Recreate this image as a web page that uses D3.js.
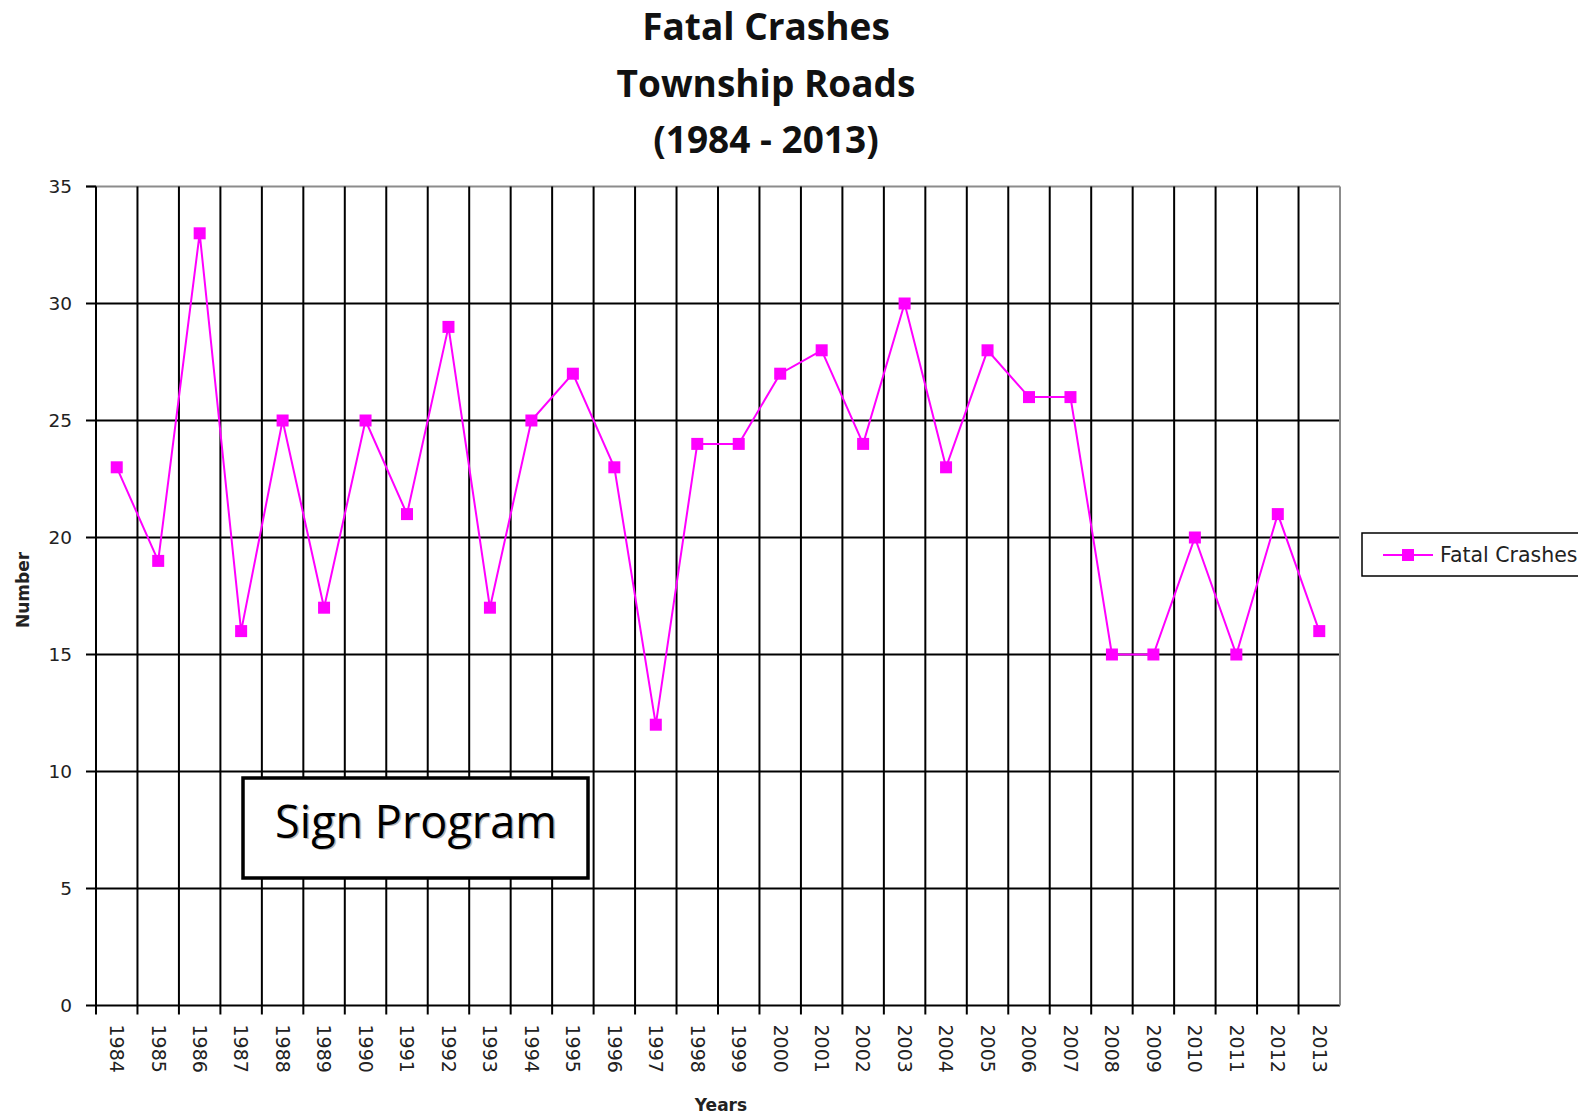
<!DOCTYPE html>
<html>
<head>
<meta charset="utf-8">
<script src="https://cdn.jsdelivr.net/npm/d3@7"></script>
<style>
  html, body { margin: 0; padding: 0; background: #fff; overflow: hidden; }
  svg { display: block; }
</style>
</head>
<body>
<script>
const width = 1578;
const height = 1115;

// data
const years = ["1984", "1985", "1986", "1987", "1988", "1989", "1990", "1991", "1992", "1993",
               "1994", "1995", "1996", "1997", "1998", "1999", "2000", "2001", "2002", "2003",
               "2004", "2005", "2006", "2007", "2008", "2009", "2010", "2011", "2012", "2013"];
const fatalCrashes = [23, 19, 33, 16, 25, 17, 25, 21, 29, 17,
                      25, 27, 23, 12, 24, 24, 27, 28, 24, 30,
                      23, 28, 26, 26, 15, 15, 20, 15, 21, 16];
const yTicks = [0, 5, 10, 15, 20, 25, 30, 35];
const titleLines = ["Fatal Crashes", "Township Roads", "(1984 - 2013)"];
const seriesName = "Fatal Crashes";
const noteText = "Sign Program";

const margin = { left: 96, right: 1340, top: 186.5, bottom: 1005.5 };
const pink = "#ff00ff";

const svg = d3.select("body")
    .append("svg")
    .attr("width", width)
    .attr("height", height);

const x = d3.scaleBand()
    .domain(years)
    .range([margin.left, margin.right])
    .padding(0);

const y = d3.scaleLinear()
    .domain([0, 35])
    .range([margin.bottom, margin.top]);

// title
svg.append("g")
    .selectAll("text")
    .data(titleLines)
    .join("text")
    .attr("x", 766)
    .attr("y", (d, i) => 40 + i * 56.5)
    .attr("text-anchor", "middle")
    .attr("font-family", "Open Sans")
    .attr("font-weight", "bold")
    .attr("font-size", 37)
    .attr("fill", "#111")
    .text(d => d);

// horizontal gridlines
svg.append("g")
    .selectAll("line")
    .data(yTicks)
    .join("line")
    .attr("x1", margin.left - 10)
    .attr("x2", margin.right)
    .attr("y1", d => y(d))
    .attr("y2", d => y(d))
    .attr("stroke", d => d === 35 ? "#8c8c8c" : "#000")
    .attr("stroke-width", 2);

// vertical gridlines on category boundaries
const bounds = years.map(d => x(d)).concat([x.range()[1]]);
svg.append("g")
    .selectAll("line")
    .data(bounds)
    .join("line")
    .attr("x1", d => d)
    .attr("x2", d => d)
    .attr("y1", margin.top)
    .attr("y2", (d, i) => i === bounds.length - 1 ? margin.bottom : margin.bottom + 9)
    .attr("stroke", (d, i) => i === bounds.length - 1 ? "#8c8c8c" : "#000")
    .attr("stroke-width", 2);

// small tick at 35 left of the axis (border is gray)
svg.append("line")
    .attr("x1", margin.left - 10).attr("x2", margin.left)
    .attr("y1", y(35)).attr("y2", y(35))
    .attr("stroke", "#000").attr("stroke-width", 2);

// y axis labels
const yAxis = d3.axisLeft(y).tickValues(yTicks).tickSize(0).tickPadding(24);
svg.append("g")
    .attr("transform", `translate(${margin.left},0)`)
    .call(yAxis)
    .call(g => g.select(".domain").remove())
    .selectAll("text")
    .attr("font-family", "DejaVu Sans")
    .attr("font-size", 18.5)
    .attr("fill", "#222");

// x axis labels, rotated
const xAxis = d3.axisBottom(x).tickSize(0);
svg.append("g")
    .attr("transform", `translate(0,${margin.bottom})`)
    .call(xAxis)
    .call(g => g.select(".domain").remove())
    .selectAll("text")
    .attr("font-family", "DejaVu Sans")
    .attr("font-size", 19)
    .attr("fill", "#222")
    .attr("text-anchor", "start")
    .attr("transform", "rotate(90)")
    .attr("x", 19)
    .attr("y", 0)
    .attr("dy", "0.35em");

// axis titles
svg.append("text")
    .attr("x", 721)
    .attr("y", 1111)
    .attr("text-anchor", "middle")
    .attr("font-family", "DejaVu Sans")
    .attr("font-weight", "bold")
    .attr("font-size", 17)
    .attr("fill", "#222")
    .text("Years");

svg.append("text")
    .attr("transform", "translate(29,590) rotate(-90)")
    .attr("text-anchor", "middle")
    .attr("font-family", "DejaVu Sans")
    .attr("font-weight", "bold")
    .attr("font-size", 17)
    .attr("fill", "#222")
    .text("Number");

// annotation box
const note = svg.append("g");
note.append("rect")
    .attr("x", 243)
    .attr("y", 778)
    .attr("width", 345)
    .attr("height", 100)
    .attr("fill", "#fff")
    .attr("stroke", "#000")
    .attr("stroke-width", 3.5);
note.append("text")
    .attr("x", 417.5)
    .attr("y", 839)
    .attr("text-anchor", "middle")
    .attr("font-family", "Open Sans")
    .attr("font-size", 45)
    .attr("fill", "#bbb")
    .text(noteText);
note.append("text")
    .attr("x", 416)
    .attr("y", 837.5)
    .attr("text-anchor", "middle")
    .attr("font-family", "Open Sans")
    .attr("font-size", 45)
    .attr("fill", "#000")
    .text(noteText);

// series line
const line = d3.line()
    .x((d, i) => x(years[i]) + x.bandwidth() / 2)
    .y(d => y(d));

svg.append("path")
    .datum(fatalCrashes)
    .attr("d", line)
    .attr("fill", "none")
    .attr("stroke", pink)
    .attr("stroke-width", 2);

const m = 12;
svg.append("g")
    .selectAll("rect")
    .data(fatalCrashes)
    .join("rect")
    .attr("x", (d, i) => x(years[i]) + x.bandwidth() / 2 - m / 2)
    .attr("y", d => y(d) - m / 2)
    .attr("width", m)
    .attr("height", m)
    .attr("fill", pink);

// legend
const legend = svg.append("g");
legend.append("rect")
    .attr("x", 1362)
    .attr("y", 533)
    .attr("width", 240)
    .attr("height", 43)
    .attr("fill", "#fff")
    .attr("stroke", "#000")
    .attr("stroke-width", 1.5);
legend.append("line")
    .attr("x1", 1383).attr("x2", 1433)
    .attr("y1", 555).attr("y2", 555)
    .attr("stroke", pink).attr("stroke-width", 2);
legend.append("rect")
    .attr("x", 1408 - m / 2).attr("y", 555 - m / 2)
    .attr("width", m).attr("height", m)
    .attr("fill", pink);
legend.append("text")
    .attr("x", 1440)
    .attr("y", 562)
    .attr("font-family", "DejaVu Sans")
    .attr("font-size", 20.5)
    .attr("fill", "#222")
    .text(seriesName);
</script>
</body>
</html>
